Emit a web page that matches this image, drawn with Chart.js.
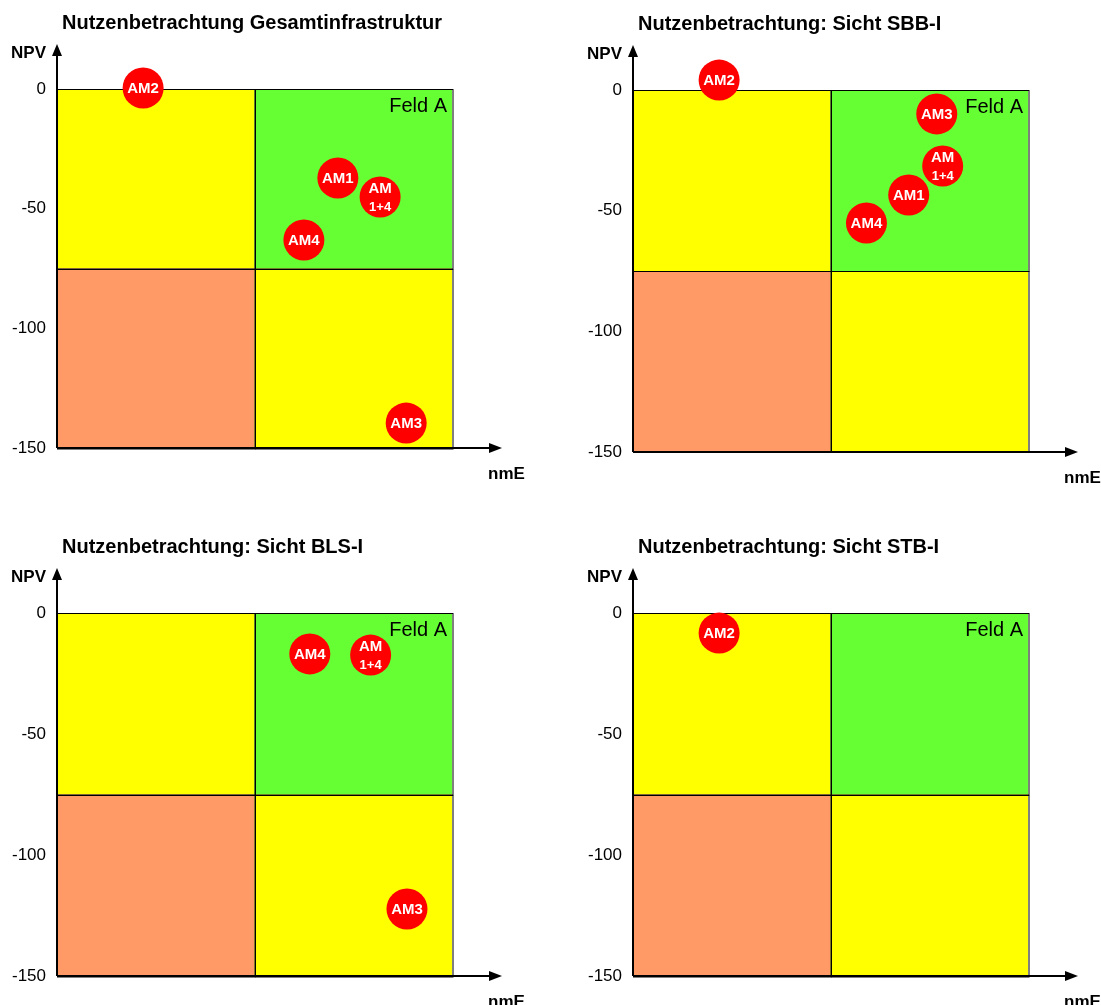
<!DOCTYPE html>
<html>
<head>
<meta charset="utf-8">
<script src="https://cdn.jsdelivr.net/npm/chart.js@4.4.1/dist/chart.umd.min.js"></script>
<style>
  body { margin: 0; background: #fff; }
  .panel { position: absolute; }
</style>
</head>
<body>
<div id="wrap"></div>
<script>
// Titles and axis ticks
const titles = [
    'Nutzenbetrachtung Gesamtinfrastruktur',
    'Nutzenbetrachtung: Sicht SBB-I',
    'Nutzenbetrachtung: Sicht BLS-I',
    'Nutzenbetrachtung: Sicht STB-I'
];
const yTicks = [0, -50, -100, -150];

// Points per panel (nmE on x, NPV on y)
const gesamtLabels = ['AM2', 'AM1', 'AM1+4', 'AM4', 'AM3'];
const gesamtNme = [21.8, 71.1, 81.8, 62.5, 88.4];
const gesamtNpv = [0.4, -37.2, -45.1, -63.1, -139.6];

const sbbLabels = ['AM2', 'AM3', 'AM1+4', 'AM1', 'AM4'];
const sbbNme = [21.8, 76.9, 78.4, 69.8, 59.1];
const sbbNpv = [4.1, -9.9, -31.5, -43.5, -55.1];

const blsLabels = ['AM4', 'AM1+4', 'AM3'];
const blsNme = [64.0, 79.4, 88.6];
const blsNpv = [-16.9, -17.4, -122.3];

const stbLabels = ['AM2'];
const stbNme = [21.8];
const stbNpv = [-8.3];

const panels = [
    { title: titles[0], labels: gesamtLabels, x: gesamtNme, y: gesamtNpv, left: 0, top: 0, padBottom: 57 },
    { title: titles[1], labels: sbbLabels, x: sbbNme, y: sbbNpv, left: 576, top: 1, padBottom: 54 },
    { title: titles[2], labels: blsLabels, x: blsNme, y: blsNpv, left: 0, top: 524, padBottom: 53 },
    { title: titles[3], labels: stbLabels, x: stbNme, y: stbNpv, left: 576, top: 524, padBottom: 53 }
];

const FONT = "'Liberation Sans', Arial, sans-serif";

// Quadrant background, axes with arrows, captions and point labels
const quadrantPlugin = {
    id: 'quadrants',
    beforeDatasetsDraw(chart) {
        const ctx = chart.ctx;
        const xs = chart.scales.x, ys = chart.scales.y;
        const x0 = xs.getPixelForValue(0), xm = xs.getPixelForValue(50), x1 = xs.getPixelForValue(100);
        const y0 = ys.getPixelForValue(0), ym = ys.getPixelForValue(-75), y1 = ys.getPixelForValue(-150);
        const cells = [
            [x0, y0, xm, ym, '#FFFF00'],
            [xm, y0, x1, ym, '#66FF33'],
            [x0, ym, xm, y1, '#FF9966'],
            [xm, ym, x1, y1, '#FFFF00']
        ];
        ctx.save();
        cells.forEach(c => {
            ctx.fillStyle = c[4];
            ctx.fillRect(c[0], c[1], c[2] - c[0], c[3] - c[1]);
        });
        ctx.strokeStyle = '#000';
        ctx.lineWidth = 1;
        cells.forEach(c => {
            ctx.strokeRect(Math.round(c[0]) + 0.5, Math.round(c[1]) + 0.5, c[2] - c[0], c[3] - c[1]);
        });

        // axes
        const ax = Math.round(x0), ay = Math.round(y1);
        ctx.lineWidth = 2;
        ctx.beginPath();
        ctx.moveTo(ax, ay);
        ctx.lineTo(ax, 53);
        ctx.moveTo(ax, ay);
        ctx.lineTo(x1 + 38, ay);
        ctx.stroke();
        ctx.fillStyle = '#000';
        ctx.beginPath();
        ctx.moveTo(ax, 44);
        ctx.lineTo(ax - 5, 56);
        ctx.lineTo(ax + 5, 56);
        ctx.closePath();
        ctx.fill();
        ctx.beginPath();
        ctx.moveTo(x1 + 50, ay);
        ctx.lineTo(x1 + 37, ay - 5);
        ctx.lineTo(x1 + 37, ay + 5);
        ctx.closePath();
        ctx.fill();

        // texts
        ctx.textBaseline = 'middle';
        ctx.font = 'bold 20px ' + FONT;
        ctx.textAlign = 'left';
        ctx.fillText(chart.options.plugins.quadrants.title, ax + 5, 23);
        ctx.font = 'bold 17px ' + FONT;
        ctx.textAlign = 'right';
        ctx.fillText('NPV', ax - 11, 53);
        ctx.textAlign = 'left';
        ctx.fillText('nmE', x1 + 36, ay + 26);
        ctx.font = '20px ' + FONT;
        ctx.textAlign = 'right';
        ctx.fillText('Feld A', x1 - 5, y0 + 17);
        ctx.restore();
    },
    afterDatasetsDraw(chart) {
        const ctx = chart.ctx;
        const meta = chart.getDatasetMeta(0);
        const labels = chart.data.datasets[0].pointLabels;
        ctx.save();
        ctx.fillStyle = '#fff';
        ctx.textAlign = 'center';
        ctx.textBaseline = 'middle';
        meta.data.forEach((pt, i) => {
            const lbl = labels[i];
            if (lbl.indexOf('+') > 0) {
                ctx.font = 'bold 15px ' + FONT;
                ctx.fillText('AM', pt.x, pt.y - 8);
                ctx.font = 'bold 13px ' + FONT;
                ctx.fillText(lbl.slice(2), pt.x, pt.y + 10);
            } else {
                ctx.font = 'bold 15px ' + FONT;
                ctx.fillText(lbl, pt.x, pt.y + 1);
            }
        });
        ctx.restore();
    }
};

const wrap = document.getElementById('wrap');

panels.forEach(p => {
    const div = document.createElement('div');
    div.className = 'panel';
    div.style.left = p.left + 'px';
    div.style.top = p.top + 'px';
    const canvas = document.createElement('canvas');
    canvas.width = 550;
    canvas.height = 505;
    div.appendChild(canvas);
    wrap.appendChild(div);

    new Chart(canvas, {
        type: 'scatter',
        data: {
            datasets: [{
                data: p.x.map((v, i) => ({ x: v, y: p.y[i] })),
                pointLabels: p.labels,
                backgroundColor: '#FF0000',
                borderWidth: 0,
                pointRadius: 20.5,
                pointHoverRadius: 20.5,
                clip: false
            }]
        },
        options: {
            responsive: false,
            animation: false,
            events: [],
            layout: { padding: { top: 89, bottom: p.padBottom, left: 0, right: 98 } },
            plugins: {
                legend: { display: false },
                tooltip: { enabled: false },
                quadrants: { title: p.title }
            },
            scales: {
                x: { type: 'linear', min: 0, max: 100, display: false },
                y: {
                    type: 'linear',
                    min: -150,
                    max: 0,
                    afterFit: s => { s.width = 57; },
                    afterBuildTicks: s => { s.ticks = yTicks.map(v => ({ value: v })); },
                    grid: { display: false, drawTicks: false },
                    border: { display: false },
                    ticks: {
                        padding: 11,
                        color: '#000',
                        font: { family: FONT, size: 17 }
                    }
                }
            }
        },
        plugins: [quadrantPlugin]
    });
});
</script>
</body>
</html>
